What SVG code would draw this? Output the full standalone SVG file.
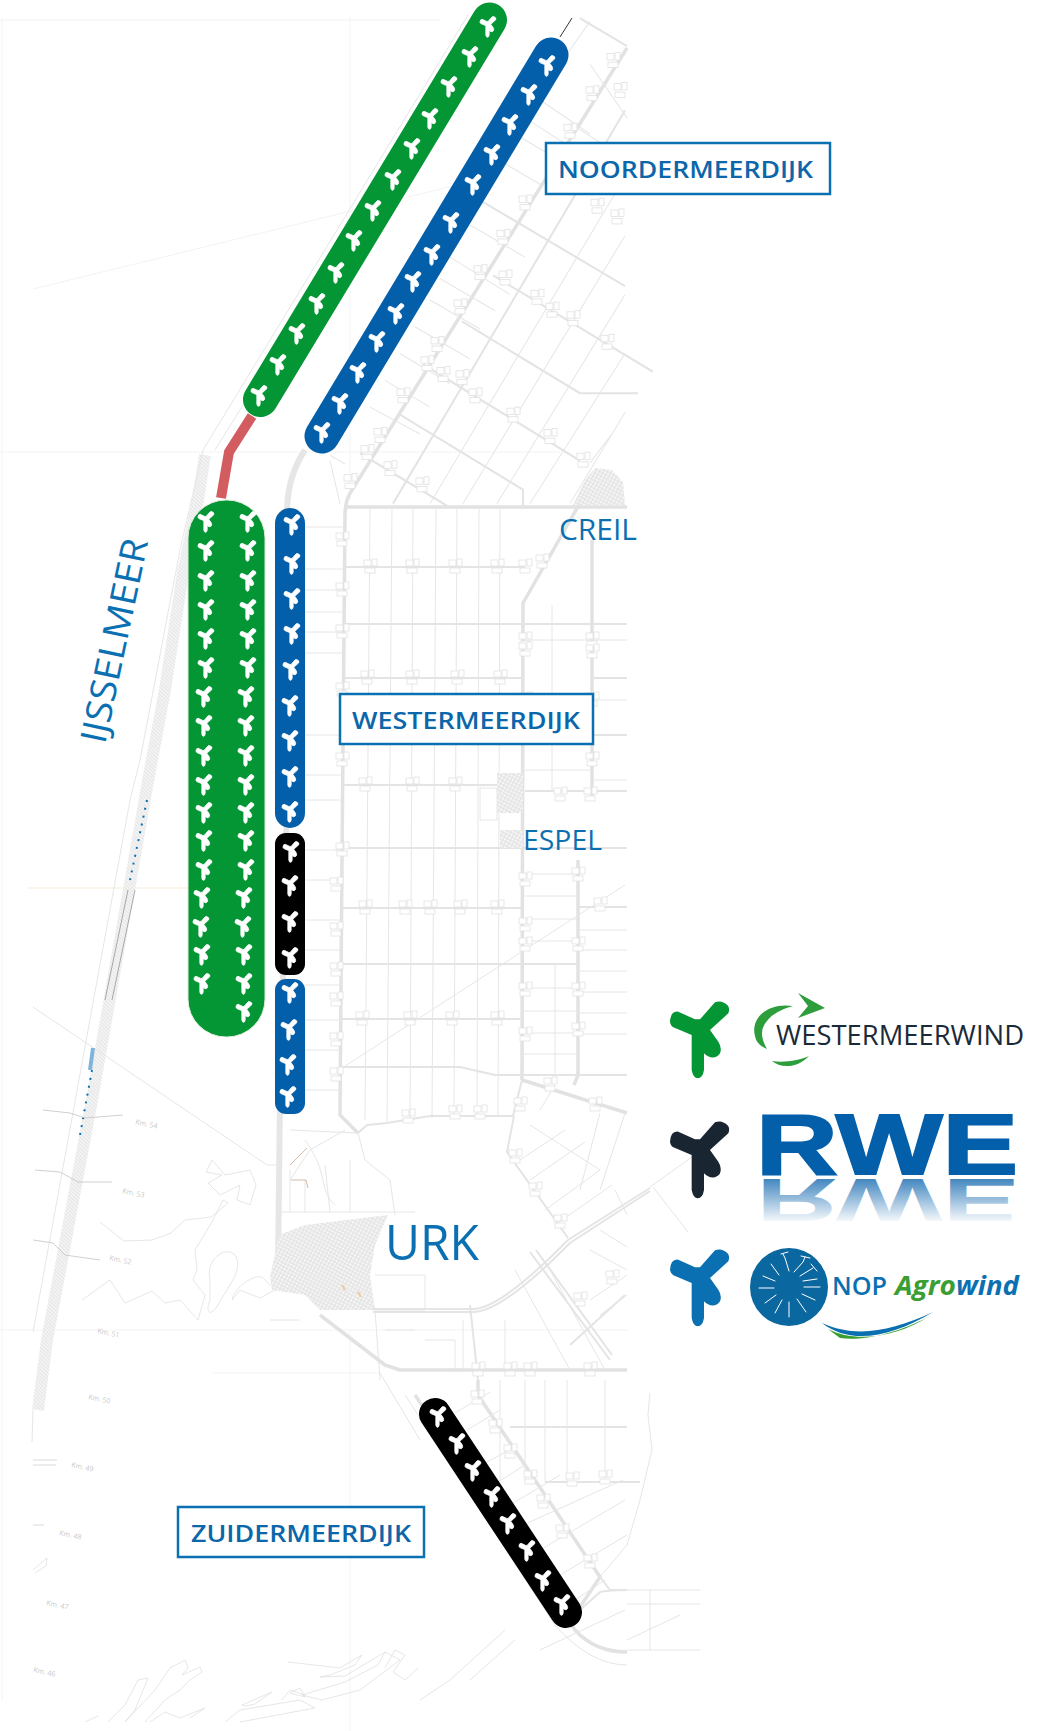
<svg xmlns="http://www.w3.org/2000/svg" width="1050" height="1731" viewBox="0 0 1050 1731">
<style>
text{font-family:"Open Sans","Noto Sans","Liberation Sans",sans-serif}
.road{fill:none;stroke:#e2e2e2;stroke-width:3.5;stroke-linejoin:round}
.wide{fill:none;stroke:#e6e6e6;stroke-width:6;stroke-linejoin:round}
.mid{fill:none;stroke:#e4e4e4;stroke-width:2;stroke-linejoin:round}
.thin{fill:none;stroke:#e6e6e6;stroke-width:1;stroke-linejoin:round}
.faint{fill:none;stroke:#f3f3f3;stroke-width:1}
.shore{fill:none;stroke:#e0e0e0;stroke-width:.8;stroke-linejoin:round}
.km{font-size:7px;fill:#c8c8c8}
.place{fill:#0b70b1}
.tag{fill:#fff;stroke:#0b70b1;stroke-width:2.5}
.tagt{font-weight:600;fill:#0b66aa;font-size:24px}
.tw{color:#fff}
.tw use{stroke:#fff;stroke-width:9;stroke-linejoin:round}
.cg{fill:#049534}
.cb{fill:#045faa}
.ck{fill:#000}
</style>
<defs>
<path id="t" fill="currentColor" transform="translate(-49.7,-70) scale(.3333)" d="M135 148L85 125Q62 122 60 155Q62 168 70 172L125 195L125 300Q130 325 143 325Q158 325 162 300L162 250Q175 265 195 262Q215 255 212 235Q210 222 205 215L180 180L235 130Q245 105 215 95Q205 93 195 97L150 148Z"/>
<g id="f" fill="#fff" stroke="#e2e2e2" stroke-width=".8"><rect x="-6" y="-7" width="7" height="6"/><rect x="2" y="-8" width="5" height="7"/><rect x="-5" y="1" width="10" height="5"/></g>
<pattern id="town" width="3.5" height="3.5" patternUnits="userSpaceOnUse" patternTransform="rotate(28)"><rect width="3.5" height="3.5" fill="#f7f7f7"/><path d="M0 1.7H3.5M1.7 0V3.5" stroke="#dedede" stroke-width=".9"/></pattern>
<pattern id="hatch" width="2.6" height="2.6" patternUnits="userSpaceOnUse" patternTransform="rotate(45)"><rect width="2.6" height="2.6" fill="#f8f8f8"/><path d="M0 1H2.6" stroke="#d8d8d8" stroke-width=".8"/></pattern>
<linearGradient id="rf" gradientUnits="userSpaceOnUse" x1="0" y1="0" x2="0" y2="-62"><stop offset="0" stop-color="#045faa" stop-opacity=".75"/><stop offset="1" stop-color="#045faa" stop-opacity="0"/></linearGradient>
</defs>

<g id="map">
<path class="faint" d="M2 18V1700M0 20H440M33 289L453 186M0 452H560M350 17V500M0 1330H627M213 1373H380M350 1330V1731"/>
<path d="M28 888H190" fill="none" stroke="#f6ead8"/>
<path fill="none" stroke="url(#hatch)" stroke-width="12" d="M205 455L198 500L183 573L165 690L150 770L92 1100L47 1340L38 1410"/>
<path class="thin" d="M468 15L203 450L180 550L140 760L130 800L33 1332M215 450L462 54M33 1410L32 1442M33 1007L267 1165L277 1165M380 1373L420 1440"/>
<path fill="none" stroke="#8a8a8a" stroke-width=".7" d="M128 890L105 1000M135 890L112 1000"/>
<path fill="none" stroke="#0b70b1" stroke-width="2" stroke-dasharray="2 6" d="M147 800L130 880M92 1070L80 1135"/>
<path fill="none" stroke="#7fb5d8" stroke-width="4" d="M93 1048L90 1070"/>
<path fill="none" stroke="#c4c4c4" stroke-width=".8" d="M43 1110L70 1113L85 1118L123 1115M35 1170L60 1172L78 1182L112 1182M33 1240L53 1243L65 1255L100 1260"/>
<path fill="none" stroke="#d0d0d0" stroke-width=".8" d="M33 1460H57M33 1465H56M33 1525H44"/>
<g class="km">
<text transform="translate(135,1124) rotate(12)">Km. 54</text>
<text transform="translate(122,1193) rotate(12)">Km. 53</text>
<text transform="translate(109,1260) rotate(12)">Km. 52</text>
<text transform="translate(97,1333) rotate(12)">Km. 51</text>
<text transform="translate(88,1399) rotate(12)">Km. 50</text>
<text transform="translate(71,1467) rotate(12)">Km. 49</text>
<text transform="translate(59,1535) rotate(12)">Km. 48</text>
<text transform="translate(46,1605) rotate(12)">Km. 47</text>
<text transform="translate(33,1672) rotate(12)">Km. 46</text>
</g>
<path class="shore" d="M33 1570L47 1558L46 1566L35 1573M212 1160L225 1175L250 1170L256 1185L250 1205L237 1200L240 1185L220 1195L208 1183L222 1175L206 1172L212 1160ZM100 1222L124 1241L152 1240L171 1233L185 1220L211 1217L228 1203L223 1200L212 1222L195 1250L197 1270L193 1280L205 1295L198 1320L180 1300L165 1303L152 1291L125 1303L110 1280L82 1300M210 1280C205 1260 225 1245 235 1255C245 1270 225 1290 218 1305C210 1318 205 1312 210 1300ZM232 1300C235 1285 260 1270 265 1280L275 1290L260 1298L240 1290Z"/>
<path class="shore" d="M85 1722L98 1716M108 1722L125 1705L138 1680L148 1678L135 1710L125 1722M125 1722L155 1690L170 1668L185 1660L188 1668L182 1675L200 1667L202 1672L190 1680L180 1690L165 1700L145 1722M150 1722L165 1712L180 1718L205 1708L190 1718M242 1705L272 1692L255 1704L245 1706ZM225 1722L240 1710L300 1700L315 1708L240 1722M288 1662L340 1668L362 1655L355 1665L330 1675L320 1677L345 1676L385 1652L378 1665L345 1682L302 1695L322 1700L360 1690L400 1660L385 1652M385 1668L395 1650L405 1655L393 1672L405 1680L418 1668M290 1693L300 1688L305 1697ZM282 1700L290 1690L305 1695"/>

<path class="road" d="M627 48L352 490Q345 500 345 515L342 860L340 1115L358 1133"/>
<path class="wide" d="M305 450Q288 475 287 510V800L280 1100L278 1267"/>
<path class="road" d="M345 507H627M580 503L523 603L522 1080M592 540V800M578 860V1075L574 1085M522 1080L627 1113"/>
<path class="mid" d="M345 567H525M345 624H627M345 678H522M592 678H627M522 735H627M343 785H500M525 791H627M343 848H627M342 908H521M342 964H578M342 1019H520M578 907H627M342 1067H460L495 1075H627"/>
<path class="thin" d="M370 507L365 1120M392 507L387 1122M413 507L410 1122M436 507L432 1118M457 507L454 1116M479 507L477 1116M500 507L498 1116"/>
<path class="thin" d="M522 874H578M522 896H578M522 919H578M522 941H578M522 988H578M522 1011H578M522 1033H578M522 1054H578M578 930H627M578 950H627M578 971H627M578 992H627M578 1013H627M578 1034H627M555 965V1075M342 1068L625 885M522 640H592M522 695H592M522 770H592M592 640H627M592 780H627M592 700H627M552 605V790M555 1085L540 1110M305 527H343M305 569H343M305 590H343M305 612H343M305 632H343M305 653H343M305 735H343M305 775H343M305 800H343M305 850H343M305 880H343M305 920H343M305 950H343M305 985H343M305 1020H343M305 1050H343M305 1090H343"/>
<path class="mid" d="M387 1123L430 1116H513L522 1080M358 1133L367 1125L387 1123"/>

<g transform="scale(1,1.0714)">
<path class="mid" d="M482 188L625 267M493 257L653 347M462 300L580 367H638M423 340L580 430M400 387L523 457V473M360 423L447 472M625 103L393 470M580 17L627 43"/>
<path class="thin" d="M625 165L430 470M625 220L463 470M625 275L497 470M625 330L530 470M625 385L570 470M570 115L620 145M535 90L590 125M525 110L575 140M515 125L560 150M500 150L540 172M470 210L525 240M450 240L510 275M440 260L495 290M430 280L480 307M415 305L470 335M400 330L450 358M385 355L430 380M370 380L420 405M330 425L345 433M560 60L590 20M590 60L627 110M330 430L340 470M590 432L612 405"/>
<use href="#f" x="570" y="123"/><use href="#f" x="525" y="190"/><use href="#f" x="503" y="222"/><use href="#f" x="480" y="255"/><use href="#f" x="460" y="287"/><use href="#f" x="437" y="322"/><use href="#f" x="403" y="370"/><use href="#f" x="380" y="407"/><use href="#f" x="350" y="450"/>
<use href="#f" x="613" y="57"/><use href="#f" x="620" y="85"/><use href="#f" x="592" y="88"/><use href="#f" x="597" y="193"/><use href="#f" x="617" y="203"/><use href="#f" x="505" y="260"/><use href="#f" x="537" y="278"/><use href="#f" x="552" y="290"/><use href="#f" x="573" y="298"/><use href="#f" x="607" y="320"/><use href="#f" x="427" y="340"/><use href="#f" x="443" y="350"/><use href="#f" x="462" y="353"/><use href="#f" x="475" y="370"/><use href="#f" x="513" y="388"/><use href="#f" x="550" y="408"/><use href="#f" x="583" y="430"/><use href="#f" x="390" y="438"/><use href="#f" x="422" y="453"/><use href="#f" x="367" y="423"/>
</g>
<path d="M560 37L572 18" stroke="#333" stroke-width="1"/>

<path d="M573 505L585 480L595 468L612 470L623 482L625 505Z" fill="url(#town)"/>
<path d="M497 773H523V813H497ZM500 830H523V848H500Z" fill="url(#town)"/>
<path class="thin" d="M480 788H497V820H480Z"/>

<path d="M270 1277L279 1235L305 1225L388 1215L375 1245L370 1275L375 1310L320 1310L305 1295L272 1290Z" fill="url(#town)"/>
<path class="thin" d="M290 1130L358 1133L365 1160L390 1180L395 1215M290 1180L310 1150L345 1130M290 1170V1212M305 1180V1212M325 1165L330 1212M350 1160V1212M280 1212H415M375 1275H425V1310H375M375 1310L380 1380M385 1330H415M425 1340H455V1370M463 1320V1370M505 1320V1370M270 1320H300M650 1187L692 1157M653 1187L688 1232M305 1140C330 1175 318 1190 335 1205"/>
<path fill="none" stroke="#c9a88f" stroke-width=".8" d="M290 1165L307 1148M291 1180H306L308 1188"/>
<path fill="none" stroke="#efc9a0" stroke-width="2" d="M342 1285L345 1290M358 1292L361 1297"/>
<path class="road" d="M320 1315L385 1365L400 1370H627"/>
<path class="mid" d="M373 1309H473Q500 1309 568 1240L650 1188M373 1312H473Q502 1312 570 1243L650 1191"/>
<path class="mid" d="M514 1116L507 1152L568 1238M470 1305L478 1380M570 1345L625 1295M530 1252L610 1360M536 1250L612 1355"/>
<path class="thin" d="M530 1125L600 1170M600 1113L580 1190M625 1113L600 1190M520 1160L565 1130M530 1180L585 1142M545 1210L600 1170M555 1225L612 1185M590 1250L627 1270M600 1230L627 1247M615 1190L627 1215M515 1270L570 1370M550 1270L605 1370M590 1300L627 1275M600 1315L627 1295"/>
<path class="road" d="M415 1395L575 1630Q595 1652 627 1652M478 1380V1395L600 1577L580 1607"/>
<path class="mid" d="M600 1577L610 1590H627M510 1427H627M545 1482H640M580 1610L600 1592Q610 1590 627 1590"/>
<path class="thin" d="M405 1395L555 1625Q590 1665 627 1665M500 1380V1482M525 1380V1482M545 1380V1482M567 1380V1482M605 1380V1482M455 1413L490 1392M467 1430L500 1410M485 1463L515 1447M498 1482L525 1465M510 1505L560 1475M523 1525L623 1480M540 1550L625 1500M560 1575L627 1535M575 1600L605 1580M650 1393L648 1415L652 1450L640 1500L627 1545L600 1577M627 1590H700M627 1604H700M650 1590V1650M627 1650H700M627 1640L680 1615M540 1650L625 1610M505 1630L450 1680L420 1700M515 1640L470 1680"/>

<g>
<use href="#f" x="370" y="567"/><use href="#f" x="412" y="567"/><use href="#f" x="455" y="567"/><use href="#f" x="497" y="567"/><use href="#f" x="525" y="567"/><use href="#f" x="542" y="562"/>
<use href="#f" x="367" y="678"/><use href="#f" x="412" y="678"/><use href="#f" x="457" y="678"/><use href="#f" x="500" y="678"/>
<use href="#f" x="365" y="785"/><use href="#f" x="412" y="785"/><use href="#f" x="455" y="785"/><use href="#f" x="560" y="795"/><use href="#f" x="590" y="795"/>
<use href="#f" x="365" y="908"/><use href="#f" x="405" y="908"/><use href="#f" x="430" y="908"/><use href="#f" x="460" y="908"/><use href="#f" x="497" y="908"/>
<use href="#f" x="362" y="1019"/><use href="#f" x="410" y="1019"/><use href="#f" x="452" y="1019"/><use href="#f" x="497" y="1019"/>
<use href="#f" x="342" y="540"/><use href="#f" x="342" y="590"/><use href="#f" x="342" y="632"/><use href="#f" x="342" y="690"/><use href="#f" x="342" y="760"/><use href="#f" x="342" y="850"/><use href="#f" x="336" y="885"/><use href="#f" x="336" y="930"/><use href="#f" x="336" y="970"/><use href="#f" x="336" y="1000"/><use href="#f" x="336" y="1040"/><use href="#f" x="336" y="1075"/>
<use href="#f" x="525" y="640"/><use href="#f" x="525" y="650"/><use href="#f" x="525" y="700"/><use href="#f" x="592" y="640"/><use href="#f" x="592" y="652"/><use href="#f" x="592" y="700"/><use href="#f" x="592" y="760"/><use href="#f" x="525" y="880"/><use href="#f" x="525" y="925"/><use href="#f" x="525" y="945"/><use href="#f" x="525" y="990"/><use href="#f" x="525" y="1035"/><use href="#f" x="578" y="875"/><use href="#f" x="578" y="945"/><use href="#f" x="578" y="990"/><use href="#f" x="578" y="1030"/><use href="#f" x="600" y="905"/><use href="#f" x="550" y="1085"/><use href="#f" x="595" y="1105"/><use href="#f" x="520" y="1105"/><use href="#f" x="408" y="1117"/><use href="#f" x="455" y="1113"/><use href="#f" x="480" y="1113"/>
<use href="#f" x="515" y="1157"/><use href="#f" x="535" y="1190"/><use href="#f" x="560" y="1222"/><use href="#f" x="612" y="1278"/><use href="#f" x="580" y="1300"/><use href="#f" x="478" y="1370"/><use href="#f" x="510" y="1370"/><use href="#f" x="530" y="1370"/><use href="#f" x="590" y="1370"/>
<use href="#f" x="477" y="1398"/><use href="#f" x="495" y="1427"/><use href="#f" x="510" y="1452"/><use href="#f" x="530" y="1478"/><use href="#f" x="543" y="1502"/><use href="#f" x="562" y="1532"/><use href="#f" x="590" y="1562"/><use href="#f" x="572" y="1480"/><use href="#f" x="605" y="1478"/>
</g>
</g>

<g id="connectors">
<path d="M252 416L229 452L221 498" fill="none" stroke="#d25c5f" stroke-width="10"/>
</g>

<g id="green-north" class="tw">
<path d="M489.500 20L260.500 399.500" stroke="#049534" stroke-width="35" stroke-linecap="round" fill="none"/>
<use href="#t" transform="translate(488,27) scale(.27)"/><use href="#t" transform="translate(470,57) scale(.27)"/><use href="#t" transform="translate(449,87) scale(.27)"/><use href="#t" transform="translate(430,119) scale(.27)"/><use href="#t" transform="translate(412,149) scale(.27)"/><use href="#t" transform="translate(393,180) scale(.27)"/><use href="#t" transform="translate(373,211) scale(.27)"/><use href="#t" transform="translate(354,241) scale(.27)"/><use href="#t" transform="translate(336,273) scale(.27)"/><use href="#t" transform="translate(317,304) scale(.27)"/><use href="#t" transform="translate(297,334) scale(.27)"/><use href="#t" transform="translate(278,365) scale(.27)"/><use href="#t" transform="translate(259,396) scale(.27)"/>
</g>
<g id="blue-north" class="tw">
<path d="M551 55L322 436" stroke="#045faa" stroke-width="35" stroke-linecap="round" fill="none"/>
<use href="#t" transform="translate(547,66) scale(.27)"/><use href="#t" transform="translate(529,95) scale(.27)"/><use href="#t" transform="translate(510,125) scale(.27)"/><use href="#t" transform="translate(492,155) scale(.27)"/><use href="#t" transform="translate(473,185) scale(.27)"/><use href="#t" transform="translate(451,223) scale(.27)"/><use href="#t" transform="translate(432,255) scale(.27)"/><use href="#t" transform="translate(413,282) scale(.27)"/><use href="#t" transform="translate(396,314) scale(.27)"/><use href="#t" transform="translate(377,342) scale(.27)"/><use href="#t" transform="translate(358,373) scale(.27)"/><use href="#t" transform="translate(340,404) scale(.27)"/><use href="#t" transform="translate(322,433) scale(.27)"/>
</g>
<g id="green-west" class="tw">
<rect class="cg" x="188" y="500" width="77" height="537" rx="38" stroke="#dcebd8" stroke-width="1"/>
<use href="#t" transform="translate(206,522) scale(.27)"/><use href="#t" transform="translate(206,551) scale(.27)"/><use href="#t" transform="translate(206,581) scale(.27)"/><use href="#t" transform="translate(206,610) scale(.27)"/><use href="#t" transform="translate(206,639) scale(.27)"/><use href="#t" transform="translate(206,668) scale(.27)"/><use href="#t" transform="translate(204,697) scale(.27)"/><use href="#t" transform="translate(204,726) scale(.27)"/><use href="#t" transform="translate(204,756) scale(.27)"/><use href="#t" transform="translate(204,785) scale(.27)"/><use href="#t" transform="translate(204,813) scale(.27)"/><use href="#t" transform="translate(204,841) scale(.27)"/><use href="#t" transform="translate(204,870) scale(.27)"/><use href="#t" transform="translate(202,898) scale(.27)"/><use href="#t" transform="translate(201,927) scale(.27)"/><use href="#t" transform="translate(202,955) scale(.27)"/><use href="#t" transform="translate(202,984) scale(.27)"/>
<use href="#t" transform="translate(248,522) scale(.27)"/><use href="#t" transform="translate(248,551) scale(.27)"/><use href="#t" transform="translate(248,581) scale(.27)"/><use href="#t" transform="translate(248,610) scale(.27)"/><use href="#t" transform="translate(248,639) scale(.27)"/><use href="#t" transform="translate(248,668) scale(.27)"/><use href="#t" transform="translate(246,697) scale(.27)"/><use href="#t" transform="translate(246,726) scale(.27)"/><use href="#t" transform="translate(246,756) scale(.27)"/><use href="#t" transform="translate(246,785) scale(.27)"/><use href="#t" transform="translate(246,813) scale(.27)"/><use href="#t" transform="translate(246,841) scale(.27)"/><use href="#t" transform="translate(246,870) scale(.27)"/><use href="#t" transform="translate(244,898) scale(.27)"/><use href="#t" transform="translate(243,927) scale(.27)"/><use href="#t" transform="translate(244,955) scale(.27)"/><use href="#t" transform="translate(244,984) scale(.27)"/><use href="#t" transform="translate(244,1012) scale(.27)"/>
</g>
<g id="blue-west-1" class="tw">
<rect class="cb" x="275" y="508" width="30" height="320" rx="15"/>
<use href="#t" transform="translate(292,525) scale(.27)"/><use href="#t" transform="translate(292,564) scale(.27)"/><use href="#t" transform="translate(292,599) scale(.27)"/><use href="#t" transform="translate(292,634) scale(.27)"/><use href="#t" transform="translate(291,670) scale(.27)"/><use href="#t" transform="translate(290,706) scale(.27)"/><use href="#t" transform="translate(290,741) scale(.27)"/><use href="#t" transform="translate(290,777) scale(.27)"/><use href="#t" transform="translate(290,812) scale(.27)"/>
</g>
<g id="black-west" class="tw">
<rect class="ck" x="275" y="833" width="30" height="142" rx="11"/>
<use href="#t" transform="translate(291,852) scale(.27)"/><use href="#t" transform="translate(290,886) scale(.27)"/><use href="#t" transform="translate(290,922) scale(.27)"/><use href="#t" transform="translate(290,958) scale(.27)"/>
</g>
<g id="blue-west-2" class="tw">
<rect class="cb" x="275" y="979" width="30" height="135" rx="11"/>
<use href="#t" transform="translate(290,993) scale(.27)"/><use href="#t" transform="translate(289,1030) scale(.27)"/><use href="#t" transform="translate(288,1065) scale(.27)"/><use href="#t" transform="translate(288,1097) scale(.27)"/>
</g>
<g id="black-south" class="tw">
<path d="M435 1414L566 1612" stroke="#000" stroke-width="32" stroke-linecap="round" fill="none"/>
<use href="#t" transform="translate(438,1417) scale(.27)"/><use href="#t" transform="translate(457,1444) scale(.27)"/><use href="#t" transform="translate(473,1471) scale(.27)"/><use href="#t" transform="translate(492,1497) scale(.27)"/><use href="#t" transform="translate(508,1524) scale(.27)"/><use href="#t" transform="translate(527,1551) scale(.27)"/><use href="#t" transform="translate(543,1581) scale(.27)"/><use href="#t" transform="translate(562,1605) scale(.27)"/>
</g>

<g id="label-noordermeerdijk"><rect class="tag" x="546" y="143" width="284" height="51"/><text class="tagt" x="558" y="178" textLength="255" lengthAdjust="spacingAndGlyphs">NOORDERMEERDIJK</text></g>
<g id="label-westermeerdijk"><rect class="tag" x="340" y="694" width="253" height="50"/><text class="tagt" x="352" y="729" textLength="228" lengthAdjust="spacingAndGlyphs">WESTERMEERDIJK</text></g>
<g id="label-zuidermeerdijk"><rect class="tag" x="178" y="1507" width="246" height="50"/><text class="tagt" x="191" y="1542" textLength="220" lengthAdjust="spacingAndGlyphs">ZUIDERMEERDIJK</text></g>
<g id="places">
<text class="place" x="559" y="540" font-size="30" textLength="78" lengthAdjust="spacingAndGlyphs">CREIL</text>
<text class="place" x="523" y="850" font-size="28" textLength="79" lengthAdjust="spacingAndGlyphs">ESPEL</text>
<text class="place" x="385" y="1260" font-size="49" textLength="94" lengthAdjust="spacingAndGlyphs">URK</text>
<text class="place" font-size="36" textLength="208" lengthAdjust="spacingAndGlyphs" transform="translate(105,745) rotate(-78)">IJSSELMEER</text>
</g>

<g id="legend-westermeerwind">
<use href="#t" style="color:#049534" transform="translate(699.700,1040)"/>
<path fill="#2e9e3c" d="M793 1006C768 1002 750 1018 755 1036C756 1042 760 1046 767 1049C762 1040 759 1030 767 1021C773 1013 783 1009 793 1006ZM798 993L825 1008L798 1018L808 1006ZM772 1061C780 1068 797 1069 809 1056C800 1060 785 1063 772 1061Z"/>
<text x="776" y="1045" font-size="28" fill="#1b2a38" textLength="248" lengthAdjust="spacingAndGlyphs">WESTERMEERWIND</text>
</g>
<g id="legend-rwe">
<use href="#t" style="color:#192632" transform="translate(699.700,1160)"/>
<text x="756" y="1174" font-size="85" font-weight="700" fill="#045faa" stroke="#045faa" stroke-width="2" style="font-family:'Liberation Sans',sans-serif" textLength="262" lengthAdjust="spacingAndGlyphs">RWE</text>
<text transform="translate(756,1179) scale(1,-.72)" font-size="85" font-weight="700" fill="url(#rf)" style="font-family:'Liberation Sans',sans-serif" textLength="262" lengthAdjust="spacingAndGlyphs">RWE</text>
</g>
<g id="legend-nop">
<use href="#t" style="color:#0b70b1" transform="translate(699.700,1288)"/>
<circle cx="789" cy="1287" r="39" fill="#0a679f"/>
<path stroke="#fff" stroke-width="1" fill="none" stroke-linecap="round" d="M789 1271L785 1258L783 1254M794 1272L803 1262L805 1257M800 1276L813 1268M803 1281L817 1279M804 1287H820M802 1294L815 1300M797 1299L806 1312M789 1302V1317M782 1300L775 1313M776 1295L765 1303M774 1288H759M775 1281L763 1276M779 1275L771 1264M781 1254L788 1252M801 1256L810 1258M811 1264L817 1271"/>
<text x="832" y="1295" font-size="26" font-weight="600" fill="#0b70b1" textLength="55" lengthAdjust="spacingAndGlyphs">NOP</text>
<text x="895" y="1295" font-size="27" font-weight="700" font-style="italic" fill="#3a9e32" textLength="61" lengthAdjust="spacingAndGlyphs">Agro</text>
<text x="956" y="1295" font-size="27" font-weight="700" font-style="italic" fill="#0b70b1" textLength="63" lengthAdjust="spacingAndGlyphs">wind</text>
<path fill="#0b70b1" d="M822 1323C850 1345 890 1338 933 1312C890 1332 855 1338 822 1323Z"/>
<path fill="#3a9e32" d="M828 1329C855 1343 895 1338 930 1316C895 1335 860 1341 840 1338Z"/>
</g>
</svg>
